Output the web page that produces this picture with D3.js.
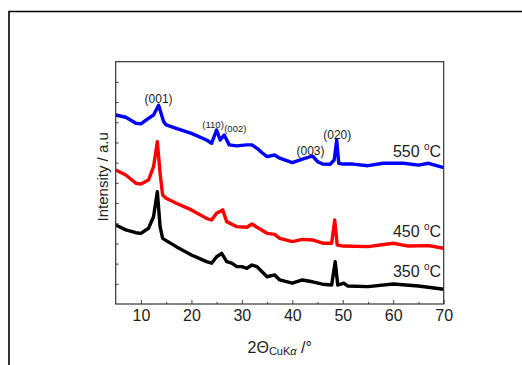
<!DOCTYPE html>
<html>
<head>
<meta charset="utf-8">
<script src="https://cdn.jsdelivr.net/npm/d3@7"></script>
<style>
  body { margin: 0; background: #fff; }
  text { font-family: "Liberation Sans", Arial, sans-serif; fill: #222; }
</style>
</head>
<body>
<div id="chart"></div>
<script>
// 2theta positions (deg) and intensities (arbitrary, offset per sample)
const theta550 = [5, 7, 9, 10, 11, 12.5, 13.5, 14.5, 15, 17, 20, 23, 24, 25, 25.7, 26.5, 27.5, 29, 31, 32, 33, 34, 35, 36.5, 37.5, 40, 42, 44, 45, 46, 47.5, 48.3, 48.8, 49.2, 50, 52, 55, 58, 62, 65, 67, 70];
const int550 = [9.36, 9.25, 8.95, 8.92, 9.11, 9.36, 9.84, 9.03, 8.87, 8.70, 8.45, 8.12, 7.96, 8.62, 8.12, 8.37, 7.88, 7.83, 7.88, 7.88, 7.71, 7.49, 7.30, 7.38, 7.22, 7.00, 7.17, 7.33, 7.05, 6.93, 6.92, 7.13, 8.12, 6.97, 6.93, 6.93, 6.85, 6.97, 6.97, 6.88, 6.97, 6.75];

const theta450 = [5, 7, 9, 10, 11.5, 12.5, 13.25, 13.8, 14.3, 15, 17, 20, 23, 24, 25, 26.2, 27, 29, 31, 32, 33, 35, 36.5, 37.5, 40, 42, 44, 46, 47.8, 48.4, 48.9, 50, 55, 60, 63, 67, 70];
const int450 = [6.64, 6.39, 5.98, 5.94, 6.14, 6.80, 8.04, 6.47, 5.40, 5.24, 4.99, 4.66, 4.24, 4.16, 4.49, 4.66, 4.08, 3.83, 3.80, 3.96, 3.80, 3.50, 3.45, 3.25, 3.09, 3.20, 3.17, 3.01, 3.01, 4.16, 2.92, 2.87, 2.84, 3.01, 2.87, 2.89, 2.76];

const theta350 = [5, 7, 9, 10, 11.5, 12.5, 13.25, 13.8, 14.3, 15, 17, 20, 23, 24, 25, 26, 27, 28, 29, 30, 31, 32, 33, 34, 35, 36.5, 37.5, 40, 42, 44, 46, 47.8, 48.5, 49, 50.2, 51, 55, 60, 65, 70];
const int350 = [3.91, 3.67, 3.53, 3.50, 3.75, 4.32, 5.56, 3.83, 3.25, 3.14, 2.84, 2.43, 2.10, 2.02, 2.34, 2.51, 2.10, 2.02, 1.85, 1.85, 1.77, 1.93, 1.85, 1.60, 1.35, 1.44, 1.19, 1.03, 1.19, 1.10, 0.98, 0.94, 2.10, 0.94, 1.03, 0.89, 0.86, 0.99, 0.89, 0.73];

const seriesNames = ["550", "450", "350"];
const seriesColors = ["#0000ff", "#ff0000", "#000000"];
const tempLevel = [7.3, 3.32, 1.34];

const xTicks = [10, 20, 30, 40, 50, 60, 70];
const peakLabels = ["(001)", "(110)", "(002)", "(003)", "(020)"];
const peakTheta = [13.5, 24.3, 28.7, 43.6, 48.9];
const peakLevel = [9.95, 8.7, 8.5, 7.38, 8.16];

const width = 522, height = 365;
const margin = { left: 115.7, right: 78.3, top: 61.7, bottom: 61 };
const innerW = width - margin.left - margin.right;
const innerH = height - margin.top - margin.bottom;

const svg = d3.select("#chart").append("svg")
    .attr("width", width)
    .attr("height", height);

// outer figure border
svg.append("path")
    .attr("d", `M9,${height} V11.5 H${width}`)
    .attr("fill", "none")
    .attr("stroke", "#000")
    .attr("stroke-width", 1.6);

const g = svg.append("g")
    .attr("transform", `translate(${margin.left},${margin.top})`);

const x = d3.scaleLinear().domain([5, 70]).range([0, innerW]);
const y = d3.scaleLinear().domain([0, 12]).range([innerH, 0]);

// clip so the thick lines stay inside the frame
g.append("clipPath").attr("id", "clip")
    .append("rect").attr("width", innerW).attr("height", innerH);

const line = d3.line()
    .x(d => x(d[0]))
    .y(d => y(d[1]));

const series = [
    d3.zip(theta550, int550),
    d3.zip(theta450, int450),
    d3.zip(theta350, int350)
];

series.forEach((s, i) => {
    g.append("path")
        .datum(s)
        .attr("clip-path", "url(#clip)")
        .attr("fill", "none")
        .attr("stroke", seriesColors[i])
        .attr("stroke-width", 3.4)
        .attr("stroke-linejoin", "round")
        .attr("d", line);
});

// x axis (ticks pointing inward)
const xAxis = g.append("g")
    .attr("transform", `translate(0,${innerH})`)
    .call(d3.axisBottom(x).tickValues(xTicks).tickSizeInner(-4).tickSizeOuter(0).tickPadding(6));
xAxis.select(".domain").remove();
xAxis.selectAll("line").attr("stroke", "#444");
xAxis.selectAll("text")
    .style("font-size", "16px")
    .style("font-family", "Liberation Sans, Arial, sans-serif")
    .attr("fill", "#222");

g.append("g")
    .attr("transform", `translate(0,${innerH})`)
    .call(d3.axisBottom(x).tickValues(d3.range(15, 70, 10)).tickSizeInner(-2).tickSizeOuter(0).tickFormat(""))
    .call(a => a.select(".domain").remove())
    .selectAll("line").attr("stroke", "#444");

// y axis: unlabeled inward ticks
g.append("g")
    .call(d3.axisLeft(y).tickValues(d3.range(1, 12)).tickSizeInner(-3).tickSizeOuter(0).tickFormat(""))
    .call(a => a.select(".domain").remove())
    .selectAll("line").attr("stroke", "#444");

// frame
g.append("rect")
    .attr("width", innerW)
    .attr("height", innerH)
    .attr("fill", "none")
    .attr("stroke", "#333")
    .attr("stroke-width", 1.2);

// peak annotations
peakLabels.forEach((lab, i) => {
    const small = lab === "(110)" || lab === "(002)";
    g.append("text")
        .attr("x", x(peakTheta[i]))
        .attr("y", y(peakLevel[i]))
        .attr("text-anchor", "middle")
        .style("font-size", small ? "9.5px" : "12px")
        .text(lab);
});

// temperature labels
seriesNames.forEach((name, i) => {
    const t = g.append("text")
        .attr("x", x(69.5))
        .attr("y", y(tempLevel[i]))
        .attr("text-anchor", "end")
        .style("font-size", "16px");
    t.append("tspan").text(name + " ");
    t.append("tspan").attr("dy", -7).style("font-size", "10px").text("o");
    t.append("tspan").attr("dy", 7).text("C");
});

// axis titles
const xt = svg.append("text")
    .attr("x", margin.left + innerW / 2)
    .attr("y", 353)
    .attr("text-anchor", "middle")
    .style("font-size", "16px");
xt.append("tspan").text("2\u0398");
xt.append("tspan").attr("dy", 2).style("font-size", "11px").text("CuK");
xt.append("tspan").style("font-size", "11px").style("font-style", "italic").text("\u03b1");
xt.append("tspan").attr("dy", -2).text(" /\u00b0");

svg.append("text")
    .attr("transform", `translate(108,${margin.top + innerH / 2 - 6}) rotate(-90)`)
    .attr("text-anchor", "middle")
    .style("font-size", "15px")
    .text("Intensity / a.u");
</script>
</body>
</html>
